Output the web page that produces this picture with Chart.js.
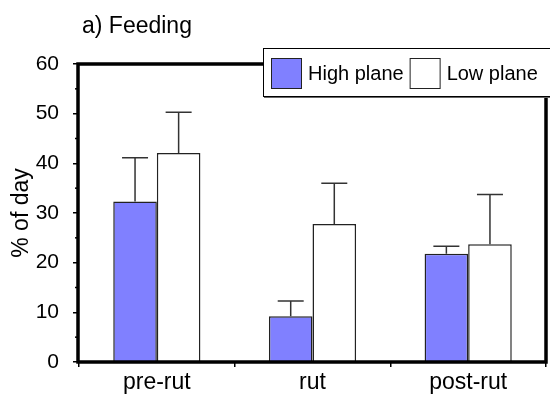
<!DOCTYPE html>
<html>
<head>
<meta charset="utf-8">
<script src="https://cdn.jsdelivr.net/npm/chart.js@4"></script>
<style>
  html, body { margin: 0; padding: 0; background: #fff; }
  #wrap { width: 550px; height: 395px; }
</style>
</head>
<body>
<div id="wrap"><canvas id="feedingChart" width="550" height="395"></canvas></div>
<script>
const periods = ['pre-rut', 'rut', 'post-rut'];
const highPlane = [32.3, 9.2, 21.8];
const highPlaneErr = [8.8, 3.1, 1.5];
const lowPlane = [42.1, 27.8, 23.7];
const lowPlaneErr = [8.2, 8.2, 10.0];
const yTicks = [0, 10, 20, 30, 40, 50, 60];
const yMinorTicks = [5, 15, 25, 35, 45, 55];

const FONT = "'Liberation Sans', Arial, sans-serif";

// frame, minor ticks and one-sided error bars
const framePlugin = {
  id: 'frame',
  afterDatasetsDraw(chart) {
    const ctx = chart.ctx;
    const area = chart.chartArea;
    const y = chart.scales.y;
    ctx.save();

    ctx.strokeStyle = '#333';
    ctx.lineWidth = 1.5;
    chart.data.datasets.forEach((ds, i) => {
      const meta = chart.getDatasetMeta(i);
      meta.data.forEach((bar, j) => {
        const top = y.getPixelForValue(ds.data[j] + ds.errors[j]);
        const base = y.getPixelForValue(ds.data[j]);
        ctx.beginPath();
        ctx.moveTo(bar.x, base);
        ctx.lineTo(bar.x, top);
        ctx.moveTo(bar.x - 13, top);
        ctx.lineTo(bar.x + 13, top);
        ctx.stroke();
      });
    });

    ctx.strokeStyle = '#000';
    ctx.lineWidth = 1.5;
    yMinorTicks.forEach(v => {
      const py = y.getPixelForValue(v);
      ctx.beginPath();
      ctx.moveTo(area.left - 4, py);
      ctx.lineTo(area.left, py);
      ctx.stroke();
    });

    ctx.lineWidth = 3.5;
    ctx.strokeRect(area.left - 1, area.top, area.right - area.left + 1, area.bottom - area.top);

    // title
    ctx.fillStyle = '#000';
    ctx.font = '23px ' + FONT;
    ctx.textBaseline = 'alphabetic';
    ctx.textAlign = 'left';
    ctx.fillText('a) Feeding', 82, 33);
    ctx.restore();
  },
  afterDraw(chart) {
    // legend box overlapping the top frame
    const ctx = chart.ctx;
    ctx.save();
    ctx.fillStyle = '#666';
    ctx.fillRect(264, 49, 290, 49);
    ctx.fillStyle = '#fff';
    ctx.fillRect(263, 48, 290, 48);
    ctx.strokeStyle = '#000';
    ctx.lineWidth = 1;
    ctx.strokeRect(263.5, 48.5, 290, 48);

    ctx.font = '20px ' + FONT;
    ctx.textBaseline = 'middle';
    ctx.textAlign = 'left';
    let x = 271;
    chart.data.datasets.forEach(ds => {
      ctx.fillStyle = ds.backgroundColor;
      ctx.fillRect(x, 58, 30, 30);
      ctx.strokeStyle = '#222';
      ctx.strokeRect(x + 0.5, 58.5, 30, 30);
      ctx.fillStyle = '#000';
      ctx.fillText(ds.label, x + 37, 74);
      x += 37 + ctx.measureText(ds.label).width + 6;
    });
    ctx.restore();
  }
};

new Chart(document.getElementById('feedingChart'), {
  type: 'bar',
  data: {
    labels: periods,
    datasets: [
      {
        label: 'High plane',
        data: highPlane,
        errors: highPlaneErr,
        backgroundColor: '#8080ff',
        borderColor: '#222',
        borderWidth: 1.5,
        categoryPercentage: 0.56,
        barPercentage: 1
      },
      {
        label: 'Low plane',
        data: lowPlane,
        errors: lowPlaneErr,
        backgroundColor: '#ffffff',
        borderColor: '#222',
        borderWidth: 1.5,
        categoryPercentage: 0.56,
        barPercentage: 1
      }
    ]
  },
  options: {
    responsive: false,
    animation: false,
    layout: { padding: { top: 64, right: 4, left: 0, bottom: 0 } },
    plugins: {
      legend: { display: false },
      tooltip: { enabled: false }
    },
    scales: {
      x: {
        border: { display: false },
        grid: { offset: true, drawOnChartArea: false, drawTicks: true, tickLength: 5, color: '#000', lineWidth: 1.5 },
        ticks: { color: '#000', padding: 2, font: { family: FONT, size: 23 } },
        afterFit(scale) { scale.height = 33; }
      },
      y: {
        min: 0,
        max: 60,
        border: { display: false },
        grid: { drawOnChartArea: false, drawTicks: true, tickLength: 6, color: '#000', lineWidth: 1.5 },
        afterBuildTicks(scale) { scale.ticks = yTicks.map(v => ({ value: v })); },
        ticks: { color: '#000', padding: 14, font: { family: FONT, size: 21 } },
        title: {
          display: true,
          text: '% of day',
          color: '#000',
          padding: { top: 8, bottom: 0 },
          font: { family: FONT, size: 23 }
        },
        afterFit(scale) { scale.width = 79; }
      }
    }
  },
  plugins: [framePlugin]
});
</script>
</body>
</html>
